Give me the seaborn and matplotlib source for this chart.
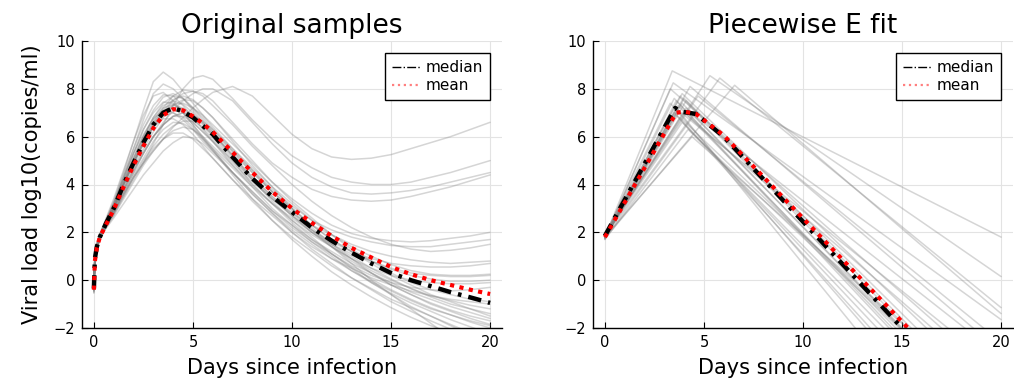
import numpy as np
import pandas as pd
import matplotlib
matplotlib.use("Agg")
import matplotlib.pyplot as plt
import seaborn as sns
from matplotlib.lines import Line2D

# -----------------------------
# Data: original samples
# -----------------------------
DAYS_ORIG = [0, 0.05, 0.15, 0.3, 0.6, 1, 1.5, 2, 2.5, 3, 3.5, 4, 4.5, 5, 5.5, 6,
             7, 8, 9, 10, 11, 12, 13, 14, 15, 16, 17, 18, 19, 20]

ORIG_SAMPLES = [
    [-0.3, 1.0, 1.5, 1.9, 2.5, 3.3, 4.5, 5.8, 7.1, 8.3, 8.7, 8.4, 7.9, 7.4, 6.9, 6.4, 5.5, 4.6, 3.7, 2.9, 2.1, 1.4, 0.7, 0.0, -0.6, -1.2, -1.8, -2.4, -3.0, -3.6],
    [-0.2, 0.95, 1.45, 1.85, 2.45, 3.2, 4.3, 5.5, 6.7, 7.8, 8.2, 8.0, 7.6, 7.1, 6.6, 6.1, 5.2, 4.3, 3.5, 2.7, 2.0, 1.4, 0.8, 0.3, -0.2, -0.6, -1.0, -1.3, -1.6, -1.85],
    [-0.1, 0.9, 1.35, 1.75, 2.2, 2.8, 3.5, 4.2, 4.9, 5.7, 6.5, 7.3, 8.0, 8.45, 8.55, 8.4, 7.6, 6.7, 5.9, 5.2, 4.7, 4.3, 4.1, 4.0, 4.0, 4.1, 4.3, 4.5, 4.75, 5.0],
    [-0.45, 0.8, 1.35, 1.8, 2.3, 2.9, 3.6, 4.3, 4.9, 5.4, 5.9, 6.4, 6.8, 7.2, 7.55, 7.85, 8.1, 7.7, 6.9, 6.1, 5.5, 5.15, 5.05, 5.1, 5.25, 5.5, 5.75, 6.0, 6.3, 6.6],
    [-0.2, 0.9, 1.4, 1.8, 2.3, 3.0, 3.8, 4.6, 5.3, 6.0, 6.6, 7.1, 7.5, 7.8, 8.0, 8.0, 7.5, 6.6, 5.7, 4.9, 4.3, 3.9, 3.65, 3.6, 3.65, 3.75, 3.9, 4.1, 4.3, 4.5],
    [-0.3, 0.95, 1.4, 1.85, 2.35, 3.1, 4.0, 4.9, 5.7, 6.4, 7.0, 7.5, 7.8, 7.9, 7.8, 7.5, 6.6, 5.7, 4.9, 4.3, 3.8, 3.5, 3.35, 3.3, 3.35, 3.5, 3.7, 3.9, 4.15, 4.4],
    [-0.35, 0.9, 1.45, 1.85, 2.4, 3.1, 4.2, 5.3, 6.3, 7.1, 7.65, 7.8, 7.6, 7.2, 6.8, 6.3, 5.4, 4.5, 3.7, 3.0, 2.3, 1.7, 1.2, 0.7, 0.2, -0.2, -0.6, -0.9, -1.2, -1.5],
    [-0.25, 0.9, 1.4, 1.8, 2.35, 3.0, 4.1, 5.1, 6.0, 6.8, 7.4, 7.7, 7.6, 7.2, 6.7, 6.2, 5.2, 4.2, 3.3, 2.5, 1.8, 1.1, 0.5, -0.1, -0.6, -1.1, -1.5, -1.9, -2.3, -2.7],
    [-0.4, 1.0, 1.5, 1.9, 2.45, 3.2, 4.3, 5.3, 6.3, 7.0, 7.45, 7.4, 7.0, 6.5, 6.0, 5.5, 4.5, 3.6, 2.8, 2.0, 1.3, 0.7, 0.1, -0.4, -0.9, -1.3, -1.7, -2.05, -2.4, -2.7],
    [-0.15, 0.9, 1.4, 1.8, 2.3, 2.9, 3.9, 4.8, 5.7, 6.4, 7.0, 7.35, 7.4, 7.2, 6.9, 6.5, 5.7, 4.9, 4.1, 3.4, 2.8, 2.3, 1.95, 1.75, 1.65, 1.6, 1.65, 1.75, 1.85, 2.0],
    [-0.5, 0.75, 1.3, 1.75, 2.25, 2.8, 3.7, 4.5, 5.3, 6.0, 6.5, 6.85, 7.0, 6.9, 6.6, 6.2, 5.4, 4.6, 3.8, 3.1, 2.5, 2.1, 1.8, 1.6, 1.45, 1.4, 1.4, 1.5, 1.6, 1.7],
    [-0.3, 0.9, 1.4, 1.8, 2.35, 3.0, 4.0, 5.0, 5.9, 6.6, 7.05, 7.2, 7.0, 6.6, 6.2, 5.8, 4.9, 4.1, 3.4, 2.8, 2.3, 1.9, 1.5, 1.2, 1.0, 0.85, 0.75, 0.7, 0.75, 0.8],
    [-0.2, 0.85, 1.35, 1.8, 2.3, 2.8, 3.7, 4.5, 5.3, 6.0, 6.5, 6.85, 6.85, 6.6, 6.2, 5.8, 5.0, 4.2, 3.4, 2.7, 2.1, 1.6, 1.2, 0.9, 0.7, 0.6, 0.55, 0.55, 0.6, 0.7],
    [-0.35, 0.85, 1.35, 1.8, 2.3, 2.8, 3.6, 4.4, 5.1, 5.8, 6.3, 6.6, 6.55, 6.3, 5.9, 5.5, 4.7, 3.9, 3.2, 2.6, 2.0, 1.5, 1.1, 0.8, 0.5, 0.3, 0.2, 0.15, 0.15, 0.2],
    [-0.45, 0.8, 1.3, 1.75, 2.2, 2.7, 3.4, 4.1, 4.8, 5.4, 5.9, 6.25, 6.4, 6.3, 6.0, 5.6, 4.8, 4.0, 3.2, 2.5, 1.9, 1.4, 0.9, 0.5, 0.2, 0.0, -0.1, -0.15, -0.15, -0.1],
    [-0.55, 0.7, 1.25, 1.7, 2.15, 2.6, 3.2, 3.8, 4.4, 4.9, 5.4, 5.75, 6.0, 5.95, 5.7, 5.3, 4.5, 3.7, 2.9, 2.2, 1.6, 1.1, 0.6, 0.2, -0.1, -0.3, -0.4, -0.45, -0.4, -0.3],
    [-0.3, 0.95, 1.45, 1.85, 2.4, 3.1, 4.1, 5.0, 5.8, 6.4, 6.75, 6.75, 6.5, 6.1, 5.6, 5.1, 4.2, 3.3, 2.5, 1.8, 1.2, 0.6, 0.1, -0.35, -0.8, -1.15, -1.5, -1.85, -2.2, -2.5],
    [-0.25, 0.9, 1.4, 1.8, 2.35, 3.0, 4.0, 4.9, 5.8, 6.5, 7.0, 7.3, 7.2, 6.9, 6.5, 6.0, 5.1, 4.2, 3.4, 2.7, 2.0, 1.4, 0.9, 0.4, 0.0, -0.35, -0.65, -0.85, -1.05, -1.2],
    [-0.4, 0.95, 1.45, 1.9, 2.45, 3.2, 4.3, 5.3, 6.1, 6.75, 7.1, 7.0, 6.7, 6.3, 5.8, 5.4, 4.5, 3.7, 2.9, 2.3, 1.7, 1.2, 0.7, 0.3, -0.1, -0.5, -0.8, -1.1, -1.35, -1.6],
    [-0.2, 0.9, 1.4, 1.8, 2.3, 2.9, 3.8, 4.7, 5.5, 6.2, 6.8, 7.3, 7.55, 7.5, 7.2, 6.8, 5.9, 5.0, 4.1, 3.3, 2.6, 1.9, 1.3, 0.8, 0.3, -0.1, -0.4, -0.6, -0.8, -0.9],
    [-0.35, 0.85, 1.4, 1.8, 2.3, 3.0, 4.0, 4.9, 5.8, 6.6, 7.2, 7.7, 7.95, 7.9, 7.7, 7.3, 6.5, 5.6, 4.8, 4.0, 3.3, 2.7, 2.2, 1.8, 1.5, 1.3, 1.2, 1.25, 1.35, 1.5],
    [-0.3, 0.9, 1.4, 1.85, 2.35, 3.0, 4.0, 4.9, 5.7, 6.4, 6.85, 7.0, 6.8, 6.4, 5.9, 5.4, 4.5, 3.6, 2.8, 2.1, 1.5, 0.9, 0.4, -0.05, -0.45, -0.85, -1.2, -1.45, -1.7, -1.9],
    [-0.5, 0.75, 1.3, 1.75, 2.25, 2.8, 3.6, 4.3, 4.9, 5.5, 5.9, 6.15, 6.15, 5.9, 5.5, 5.1, 4.2, 3.4, 2.7, 2.0, 1.4, 0.9, 0.5, 0.1, -0.2, -0.45, -0.65, -0.8, -0.9, -1.0],
    [-0.3, 1.0, 1.5, 1.9, 2.5, 3.2, 4.4, 5.5, 6.5, 7.3, 7.75, 7.7, 7.3, 6.8, 6.3, 5.8, 4.8, 3.9, 3.0, 2.3, 1.6, 1.0, 0.4, -0.1, -0.55, -0.95, -1.3, -1.65, -1.95, -2.25],
    [-0.4, 0.8, 1.3, 1.75, 2.2, 2.7, 3.5, 4.3, 5.0, 5.6, 6.1, 6.45, 6.65, 6.65, 6.4, 6.1, 5.3, 4.5, 3.7, 3.0, 2.3, 1.7, 1.2, 0.8, 0.45, 0.2, 0.05, -0.05, -0.05, 0.0],
    [-0.25, 0.95, 1.45, 1.85, 2.4, 3.1, 4.2, 5.1, 6.0, 6.8, 7.3, 7.5, 7.35, 7.0, 6.55, 6.1, 5.2, 4.3, 3.5, 2.8, 2.1, 1.5, 1.0, 0.5, 0.05, -0.35, -0.7, -1.0, -1.2, -1.4],
    [-0.2, 1.05, 1.55, 1.95, 2.55, 3.4, 4.6, 5.8, 6.9, 7.7, 7.85, 7.5, 7.0, 6.5, 5.95, 5.45, 4.4, 3.4, 2.5, 1.7, 1.0, 0.35, -0.2, -0.7, -1.15, -1.55, -1.9, -2.2, -2.5, -2.75],
    [-0.3, 0.9, 1.4, 1.8, 2.3, 3.0, 4.0, 4.9, 5.8, 6.5, 7.1, 7.55, 7.7, 7.55, 7.2, 6.8, 5.8, 4.8, 3.9, 3.0, 2.2, 1.5, 0.9, 0.3, -0.2, -0.6, -0.95, -1.25, -1.5, -1.7],
    [-0.35, 0.9, 1.45, 1.85, 2.4, 3.1, 4.1, 5.1, 6.0, 6.7, 7.2, 7.35, 7.15, 6.8, 6.35, 5.9, 5.0, 4.0, 3.2, 2.4, 1.7, 1.1, 0.55, 0.05, -0.4, -0.8, -1.15, -1.45, -1.75, -2.0],
    [-0.4, 0.85, 1.35, 1.8, 2.3, 2.9, 3.8, 4.6, 5.4, 6.0, 6.5, 6.85, 7.0, 6.9, 6.65, 6.3, 5.5, 4.7, 3.9, 3.2, 2.5, 1.9, 1.4, 1.0, 0.65, 0.4, 0.25, 0.2, 0.2, 0.25],
]

ORIG_MEDIAN = [-0.35, 0.9, 1.4, 1.8, 2.35, 3.0, 4.0, 4.9, 5.75, 6.5, 7.0, 7.2, 7.05, 6.8, 6.45, 6.1,
               5.15, 4.25, 3.5, 2.85, 2.2, 1.65, 1.15, 0.7, 0.3, 0.0, -0.25, -0.5, -0.72, -0.95]
ORIG_MEAN = [-0.4, 0.8, 1.35, 1.8, 2.3, 2.95, 3.9, 4.8, 5.6, 6.35, 6.9, 7.15, 7.1, 6.85, 6.55, 6.2,
             5.35, 4.5, 3.7, 3.0, 2.4, 1.85, 1.35, 0.95, 0.55, 0.25, 0.0, -0.2, -0.4, -0.58]

# -----------------------------
# Data: piecewise fit (start at day 0, peak, value at day 20)
# -----------------------------
PW_START = [1.8, 1.9, 1.85, 1.75, 1.8, 1.85, 1.9, 1.8, 1.7, 1.85, 1.8, 1.75, 1.9, 1.8,
            1.85, 1.7, 1.8, 1.9, 1.8, 1.85, 1.8, 1.75, 1.8, 1.85, 1.8, 1.75, 1.9, 1.8]
PW_PEAK_DAY = [3.4, 5.3, 5.8, 6.55, 3.45, 4.3, 3.9, 3.8, 3.6, 3.7, 4.0, 3.5, 4.1, 4.4,
               3.9, 4.2, 3.6, 3.3, 3.8, 4.0, 3.7, 4.5, 3.5, 3.9, 4.1, 3.3, 4.7, 3.6]
PW_PEAK = [8.75, 8.55, 8.45, 8.15, 8.25, 8.1, 7.8, 7.7, 7.5, 7.3, 7.6, 7.0, 7.2, 6.0,
           6.6, 6.3, 6.9, 7.4, 6.8, 7.0, 7.1, 6.9, 7.6, 7.4, 7.5, 8.0, 7.7, 7.2]
PW_END = [1.8, 0.15, -1.15, -1.4, -1.65, -3.0, -5.0, -6.0, -7.0, -6.5, -5.5, -7.5, -6.2, -5.5,
          -7.0, -6.0, -8.0, -8.5, -6.0, -4.5, -3.8, -3.2, -6.8, -6.3, -5.8, -4.2, -2.6, -9.5]
PW_END_DAY = 20

PW_MEDIAN_DAYS = [0, 3.55, 3.8, 4.6, 6.0, 15.0, 20.0]
PW_MEDIAN = [1.85, 7.2, 7.05, 6.95, 6.0, -2.0, -6.4]
PW_MEAN_DAYS = [0, 3.6, 4.0, 4.6, 6.0, 15.3, 20.0]
PW_MEAN = [1.8, 7.0, 7.05, 6.95, 6.05, -2.0, -5.9]

# -----------------------------
# Long-form tables for seaborn
# -----------------------------
orig_rows = []
for i, vals in enumerate(ORIG_SAMPLES):
    for d, v in zip(DAYS_ORIG, vals):
        orig_rows.append({"sample": i, "day": d, "value": v})
orig_df = pd.DataFrame(orig_rows)

pw_rows = []
for i in range(len(PW_START)):
    pw_rows.append({"sample": i, "day": 0, "value": PW_START[i]})
    pw_rows.append({"sample": i, "day": PW_PEAK_DAY[i], "value": PW_PEAK[i]})
    pw_rows.append({"sample": i, "day": PW_END_DAY, "value": PW_END[i]})
pw_df = pd.DataFrame(pw_rows)

# -----------------------------
# Style
# -----------------------------
sns.set_theme(style="ticks")
plt.rcParams["font.family"] = ["DejaVu Sans"]
plt.rcParams["text.color"] = "black"
plt.rcParams["axes.labelcolor"] = "black"
plt.rcParams["xtick.color"] = "black"
plt.rcParams["ytick.color"] = "black"

fig = plt.figure(figsize=(10.14, 3.84), dpi=100)
ax1 = fig.add_axes([82 / 1014, 56 / 384, 420 / 1014, 287 / 384])
ax2 = fig.add_axes([593 / 1014, 56 / 384, 420 / 1014, 287 / 384])

MEDIAN_STYLE = (0, (3.0, 1.6, 0.8, 1.6))
MEAN_STYLE = (0, (1.0, 1.3))


def draw_panel(ax, samples, med_x, med_y, mean_x, mean_y, title):
    sns.lineplot(data=samples, x="day", y="value", units="sample", estimator=None,
                 color="#808080", alpha=0.33, linewidth=1.1, sort=False, ax=ax, legend=False)
    sns.lineplot(x=med_x, y=med_y, color="black", linewidth=3.2,
                 sort=False, ax=ax, legend=False)
    ax.lines[-1].set_linestyle(MEDIAN_STYLE)
    ax.lines[-1].set_dash_capstyle("butt")
    sns.lineplot(x=mean_x, y=mean_y, color="red", linewidth=3.0,
                 sort=False, ax=ax, legend=False)
    ax.lines[-1].set_linestyle(MEAN_STYLE)
    ax.lines[-1].set_dash_capstyle("butt")

    ax.set_xlim(-0.6, 20.6)
    ax.set_ylim(-2, 10)
    ax.set_xticks([0, 5, 10, 15, 20])
    ax.set_yticks([-2, 0, 2, 4, 6, 8, 10])
    ax.grid(True, color="#e3e3e3", linewidth=0.8)
    ax.set_axisbelow(True)
    for s in ["top", "right"]:
        ax.spines[s].set_visible(False)
    for s in ["left", "bottom"]:
        ax.spines[s].set_color("black")
        ax.spines[s].set_linewidth(1.0)
    ax.tick_params(direction="in", length=4, width=0.8, colors="black", labelsize=10.5, pad=5)
    ax.set_title(title, fontsize=19, pad=6, color="black")
    ax.set_xlabel("Days since infection", fontsize=15, labelpad=6)
    ax.set_ylabel("")

    handles = [
        Line2D([], [], color="black", linestyle="-.", linewidth=1.0),
        Line2D([], [], color="red", linestyle=":", linewidth=1.6, alpha=0.5),
    ]
    leg = ax.legend(handles, ["median", "mean"], loc="upper right", fontsize=11,
                    frameon=True, fancybox=False, framealpha=1, edgecolor="black",
                    borderaxespad=0.8, handlelength=1.9, handletextpad=0.3,
                    labelspacing=0.2, borderpad=0.45)
    leg.get_frame().set_linewidth(1.0)


draw_panel(ax1, orig_df, DAYS_ORIG, ORIG_MEDIAN, DAYS_ORIG, ORIG_MEAN, "Original samples")
draw_panel(ax2, pw_df, PW_MEDIAN_DAYS, PW_MEDIAN, PW_MEAN_DAYS, PW_MEAN, "Piecewise E fit")
ax1.set_ylabel("Viral load log10(copies/ml)", fontsize=15, labelpad=8)

fig.savefig("out.png", dpi=100)
